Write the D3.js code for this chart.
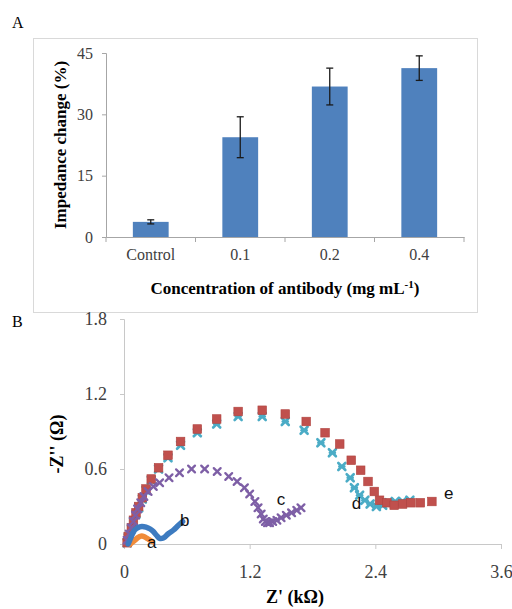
<!DOCTYPE html>
<html>
<head>
<meta charset="utf-8">
<script src="https://cdnjs.cloudflare.com/ajax/libs/d3/7.8.5/d3.min.js"></script>
<style>
  body { margin: 0; background: #fff; }
  svg { display: block; }
  text { font-family: "Liberation Serif", "Times New Roman", serif; }
</style>
</head>
<body>
<svg width="512" height="609"></svg>
<script>
// panel A: bar chart
var categories = ["Control", "0.1", "0.2", "0.4"];
var barValues = [3.7, 24.4, 36.8, 41.3];
var barErrors = [0.5, 5.0, 4.5, 3.0];
var barTicks = [0, 15, 30, 45];

// panel B: Nyquist plots (x in kOhm, y in Ohm as labelled)
var aX = [0.06, 0.09, 0.11, 0.13, 0.15, 0.17, 0.19, 0.21, 0.23, 0.25, 0.27];
var aY = [0.00, 0.02, 0.035, 0.05, 0.06, 0.065, 0.06, 0.05, 0.04, 0.03, 0.02];

var bX = [0.04, 0.05, 0.06, 0.08, 0.10, 0.13, 0.17, 0.21, 0.25, 0.28, 0.31, 0.34, 0.38, 0.42, 0.47, 0.52, 0.56];
var bY = [0.00, 0.02, 0.04, 0.08, 0.11, 0.13, 0.14, 0.135, 0.12, 0.10, 0.07, 0.045, 0.05, 0.08, 0.11, 0.15, 0.18];

var cX = [0.03, 0.05, 0.07, 0.09, 0.11, 0.13, 0.16, 0.19, 0.23, 0.28, 0.34, 0.43, 0.53, 0.645, 0.77, 0.89, 1.00, 1.08, 1.15, 1.20, 1.25, 1.28, 1.31, 1.33, 1.35, 1.37, 1.39, 1.42, 1.46, 1.50, 1.55, 1.60, 1.65, 1.69];
var cY = [0.03, 0.08, 0.13, 0.18, 0.23, 0.28, 0.33, 0.38, 0.42, 0.46, 0.49, 0.53, 0.57, 0.60, 0.60, 0.58, 0.54, 0.50, 0.45, 0.40, 0.34, 0.29, 0.24, 0.20, 0.18, 0.17, 0.17, 0.18, 0.19, 0.21, 0.23, 0.25, 0.27, 0.29];

var dX = [0.03, 0.04, 0.07, 0.09, 0.115, 0.14, 0.175, 0.21, 0.26, 0.33, 0.42, 0.54, 0.70, 0.885, 1.09, 1.32, 1.54, 1.72, 1.88, 1.99, 2.08, 2.16, 2.20, 2.25, 2.30, 2.35, 2.41, 2.47, 2.53, 2.59, 2.66, 2.73];
var dY = [0.01, 0.05, 0.12, 0.18, 0.24, 0.29, 0.36, 0.43, 0.51, 0.60, 0.69, 0.79, 0.89, 0.96, 1.02, 1.02, 0.98, 0.91, 0.81, 0.73, 0.62, 0.53, 0.45, 0.39, 0.35, 0.32, 0.30, 0.31, 0.33, 0.34, 0.34, 0.35];

var eX = [0.03, 0.04, 0.07, 0.09, 0.115, 0.14, 0.175, 0.21, 0.26, 0.33, 0.42, 0.54, 0.70, 0.885, 1.09, 1.32, 1.54, 1.74, 1.92, 2.06, 2.17, 2.26, 2.33, 2.39, 2.44, 2.51, 2.58, 2.66, 2.74, 2.83, 2.94];
var eY = [0.01, 0.06, 0.13, 0.19, 0.25, 0.30, 0.37, 0.44, 0.52, 0.61, 0.71, 0.82, 0.92, 1.00, 1.06, 1.07, 1.04, 0.98, 0.89, 0.80, 0.67, 0.59, 0.50, 0.42, 0.35, 0.33, 0.31, 0.32, 0.33, 0.33, 0.34];

var curveLabels = ["a", "b", "c", "d", "e"];
var labelX = [0.265, 0.58, 1.50, 2.22, 3.10];
var labelY = [0.02, 0.19, 0.36, 0.33, 0.41];

var xTicksB = [0, 1.2, 2.4, 3.6];
var yTicksB = [0, 0.6, 1.2, 1.8];

var serif = "'Liberation Serif', 'Times New Roman', serif";

function zip(xs, ys) {
    return xs.map(function(x, i) { return [x, ys[i]]; });
}

var svg = d3.select("svg");

// ---------- panel A ----------
svg.append("text").attr("x", 12).attr("y", 28)
    .style("font-size", "16px").text("A");

svg.append("rect")
    .attr("x", 33.5).attr("y", 38.5)
    .attr("width", 444).attr("height", 274)
    .attr("fill", "none").attr("stroke", "#d9d9d9");

var xA = d3.scaleBand()
    .domain(categories)
    .range([106, 464])
    .paddingInner(0.6)
    .paddingOuter(0.3);

var yA = d3.scaleLinear()
    .domain([0, 45])
    .range([237, 53]);

var gA = svg.append("g");

gA.selectAll(".bar")
    .data(barValues)
    .enter().append("rect")
    .attr("class", "bar")
    .attr("x", function(d, i) { return xA(categories[i]); })
    .attr("y", function(d) { return yA(d); })
    .attr("width", xA.bandwidth())
    .attr("height", function(d) { return yA(0) - yA(d); })
    .attr("fill", "#4f81bd");

var err = gA.selectAll(".err")
    .data(barValues)
    .enter().append("g")
    .attr("class", "err")
    .attr("stroke", "#1a1a1a")
    .attr("stroke-width", 1.3);
err.append("line")
    .attr("x1", function(d, i) { return xA(categories[i]) + xA.bandwidth() / 2; })
    .attr("x2", function(d, i) { return xA(categories[i]) + xA.bandwidth() / 2; })
    .attr("y1", function(d, i) { return yA(d + barErrors[i]); })
    .attr("y2", function(d, i) { return yA(d - barErrors[i]); });
[1, -1].forEach(function(s) {
    err.append("line")
        .attr("x1", function(d, i) { return xA(categories[i]) + xA.bandwidth() / 2 - 3.5; })
        .attr("x2", function(d, i) { return xA(categories[i]) + xA.bandwidth() / 2 + 3.5; })
        .attr("y1", function(d, i) { return yA(d + s * barErrors[i]); })
        .attr("y2", function(d, i) { return yA(d + s * barErrors[i]); });
});

var yAxisA = gA.append("g")
    .attr("transform", "translate(106,0)")
    .call(d3.axisLeft(yA).tickValues(barTicks).tickSize(4).tickPadding(9));
var xAxisA = gA.append("g")
    .attr("transform", "translate(0,237)")
    .call(d3.axisBottom(xA).tickSize(0).tickPadding(12));
// category separators below the axis
xAxisA.selectAll(".sep")
    .data(d3.range(categories.length + 1))
    .enter().append("line")
    .attr("class", "sep")
    .attr("x1", function(i) { return 106 + i * xA.step(); })
    .attr("x2", function(i) { return 106 + i * xA.step(); })
    .attr("y1", 0).attr("y2", 5)
    .attr("stroke", "#a6a6a6");

[yAxisA, xAxisA].forEach(function(ax) {
    ax.attr("font-family", serif).attr("font-size", 16);
    ax.select(".domain").attr("stroke", "#a6a6a6");
    ax.selectAll(".tick line").attr("stroke", "#a6a6a6");
    ax.selectAll("text").attr("fill", "#404040");
});

svg.append("text")
    .attr("transform", "translate(66,145) rotate(-90)")
    .attr("text-anchor", "middle")
    .style("font-size", "17px").style("font-weight", "bold")
    .text("Impedance change (%)");

var tA = svg.append("text")
    .attr("x", 285).attr("y", 294)
    .attr("text-anchor", "middle")
    .style("font-size", "17px").style("font-weight", "bold");
tA.append("tspan").text("Concentration of antibody (mg mL");
tA.append("tspan").attr("dy", -6).style("font-size", "11px").text("-1");
tA.append("tspan").attr("dy", 6).text(")");

// ---------- panel B ----------
svg.append("text").attr("x", 12).attr("y", 327)
    .style("font-size", "16px").text("B");

var xB = d3.scaleLinear().domain([0, 3.6]).range([124, 501]);
var yB = d3.scaleLinear().domain([0, 1.8]).range([544, 319]);

var gB = svg.append("g");

var yAxisB = gB.append("g")
    .attr("transform", "translate(124,0)")
    .call(d3.axisLeft(yB).tickValues(yTicksB).tickSize(4).tickPadding(13)
        .tickFormat(function(d) { return d === 0 ? "0" : d3.format(".1f")(d); }));
var xAxisB = gB.append("g")
    .attr("transform", "translate(0,544)")
    .call(d3.axisBottom(xB).tickValues(xTicksB).tickSize(5).tickPadding(16)
        .tickFormat(function(d) { return d === 0 ? "0" : d3.format(".1f")(d); }));

[yAxisB, xAxisB].forEach(function(ax) {
    ax.attr("font-family", serif).attr("font-size", 18);
    ax.select(".domain").attr("stroke", "#c8c8c8");
    ax.selectAll(".tick line").attr("stroke", "#c8c8c8");
    ax.selectAll("text").attr("fill", "#404040");
});

var line = d3.line()
    .x(function(d) { return xB(d[0]); })
    .y(function(d) { return yB(d[1]); })
    .curve(d3.curveCatmullRom);

function crosses(data, color, size, width) {
    var g = gB.append("g").attr("stroke", color).attr("stroke-width", width)
        .attr("stroke-linecap", "round");
    var pts = g.selectAll("g").data(data).enter().append("g")
        .attr("transform", function(d) { return "translate(" + xB(d[0]) + "," + yB(d[1]) + ")"; });
    pts.append("line").attr("x1", -size).attr("y1", -size).attr("x2", size).attr("y2", size);
    pts.append("line").attr("x1", -size).attr("y1", size).attr("x2", size).attr("y2", -size);
    return pts;
}

// d: teal stars
var dPts = crosses(zip(dX, dY), "#4bacc6", 3.5, 2.6);
dPts.append("line").attr("x1", -2.5).attr("y1", 0).attr("x2", 2.5).attr("y2", 0);

// e: red squares
gB.append("g").selectAll("rect")
    .data(zip(eX, eY))
    .enter().append("rect")
    .attr("x", function(d) { return xB(d[0]) - 4.3; })
    .attr("y", function(d) { return yB(d[1]) - 4.3; })
    .attr("width", 8.6).attr("height", 8.6)
    .attr("fill", "#c0504d")
    .attr("stroke", "#b0433f").attr("stroke-width", 0.6);

// c: purple crosses
crosses(zip(cX, cY), "#7e5fa6", 3.4, 2.3);

// a: orange, dense markers drawn as a thick line
gB.append("path")
    .datum(zip(aX, aY))
    .attr("d", line)
    .attr("fill", "none")
    .attr("stroke", "#f08c3a")
    .attr("stroke-width", 5.5)
    .attr("stroke-linecap", "round");

// b: blue, dense markers drawn as a thick line
gB.append("path")
    .datum(zip(bX, bY))
    .attr("d", line)
    .attr("fill", "none")
    .attr("stroke", "#3d7bc0")
    .attr("stroke-width", 5.5)
    .attr("stroke-linecap", "round")
    .attr("stroke-linejoin", "round");

gB.selectAll(".lbl")
    .data(curveLabels)
    .enter().append("text")
    .attr("class", "lbl")
    .attr("x", function(d, i) { return xB(labelX[i]); })
    .attr("y", function(d, i) { return yB(labelY[i]); })
    .attr("text-anchor", "middle")
    .attr("dy", "0.36em")
    .style("font-family", "'Liberation Sans', Arial, sans-serif")
    .style("font-size", "17px")
    .attr("fill", "#111")
    .text(function(d) { return d; });

svg.append("text")
    .attr("transform", "translate(63,444) rotate(-90)")
    .attr("text-anchor", "middle")
    .style("font-size", "18px").style("font-weight", "bold")
    .text("-Z'' (\u03A9)");

svg.append("text")
    .attr("x", 295).attr("y", 603)
    .attr("text-anchor", "middle")
    .style("font-size", "18px").style("font-weight", "bold")
    .text("Z' (k\u03A9)");
</script>
</body>
</html>
